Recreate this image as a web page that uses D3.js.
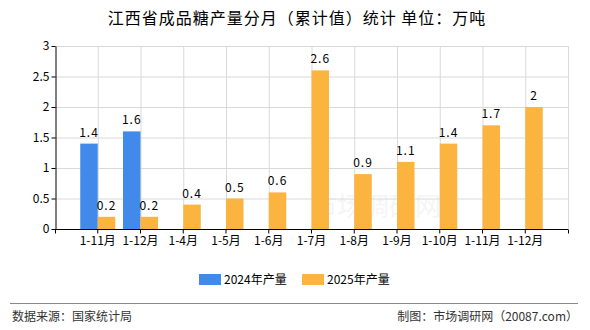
<!DOCTYPE html>
<html>
<head>
<meta charset="utf-8">
<script src="https://cdn.jsdelivr.net/npm/d3@7/dist/d3.min.js"></script>
<style>
  body { margin: 0; background: #fff; }
  svg text { font-family: "Noto Sans CJK SC", "DejaVu Sans", sans-serif; }
  .tick text { font-size: 12px; fill: #000; }
</style>
</head>
<body>
<svg width="590" height="330"></svg>
<script>
// chart data
const categories = ["1-11月", "1-12月", "1-4月", "1-5月", "1-6月", "1-7月", "1-8月", "1-9月", "1-10月", "1-11月", "1-12月"]
const keys = ["c0","c1","c2","c3","c4","c5","c6","c7","c8","c9","c10"]
const values2024 = [1.4, 1.6, null, null, null, null, null, null, null, null, null]
const values2025 = [0.2, 0.2, 0.4, 0.5, 0.6, 2.6, 0.9, 1.1, 1.4, 1.7, 2]
const yTicks = [0, 0.5, 1, 1.5, 2, 2.5, 3]
const seriesNames = ["2024年产量", "2025年产量"]
const colours = ["#418AEA", "#FCB441"]

const svg = d3.select("svg")

// plot area
let plotLeft = 55, plotRight = 568, plotTop = 46, plotBottom = 229
let step = (plotRight - plotLeft) / 12
let barW = 17.5

let x = d3.scaleBand().domain(keys)
    .range([plotLeft + step / 2, plotRight - step / 2]).padding(0)
let cx = (i) => x(keys[i]) + x.bandwidth() / 2
let y = d3.scaleLinear().domain([0, 3]).range([plotBottom, plotTop])

// title
svg.append("text")
    .attr("x", 297).attr("y", 24)
    .attr("text-anchor", "middle")
    .style("font-size", "16px")
    .style("letter-spacing", "1px")
    .text("江西省成品糖产量分月（累计值）统计 单位：万吨")

// watermark
svg.append("text")
    .attr("x", 376).attr("y", 216)
    .attr("text-anchor", "middle")
    .style("font-size", "26px")
    .style("fill", "#f5f5f5")
    .text("市场调研网")

// grid
let grid = svg.append("g")
grid.selectAll("line.h").data(yTicks.slice(1)).enter()
    .append("line")
    .attr("x1", plotLeft).attr("x2", plotRight)
    .attr("y1", d => y(d) + 0.5).attr("y2", d => y(d) + 0.5)
    .style("stroke", "#d9d9d9")
grid.selectAll("line.v").data(d3.range(12)).enter()
    .append("line")
    .attr("x1", (d, i) => i < 11 ? cx(i) + 0.5 : plotRight + 0.5)
    .attr("x2", (d, i) => i < 11 ? cx(i) + 0.5 : plotRight + 0.5)
    .attr("y1", plotTop).attr("y2", plotBottom)
    .style("stroke", "#d9d9d9")

// bars
let bars = svg.append("g")
bars.selectAll("rect.b24").data(values2024.map((v, i) => ({v, i})).filter(d => d.v != null)).enter()
    .append("rect")
    .attr("x", d => cx(d.i) - barW)
    .attr("y", d => y(d.v))
    .attr("width", barW)
    .attr("height", d => y(0) - y(d.v))
    .style("fill", colours[0])
bars.selectAll("rect.b25").data(values2025.map((v, i) => ({v, i}))).enter()
    .append("rect")
    .attr("x", d => cx(d.i))
    .attr("y", d => y(d.v))
    .attr("width", barW)
    .attr("height", d => y(0) - y(d.v))
    .style("fill", colours[1])

// value labels
let labels = svg.append("g").style("font-size", "12px")
labels.selectAll("text.l24").data(values2024.map((v, i) => ({v, i})).filter(d => d.v != null)).enter()
    .append("text")
    .attr("x", d => cx(d.i) - barW / 2)
    .attr("y", d => y(d.v) - 7)
    .attr("text-anchor", "middle")
    .style("letter-spacing", "1px")
    .text(d => d.v)
labels.selectAll("text.l25").data(values2025.map((v, i) => ({v, i}))).enter()
    .append("text")
    .attr("x", d => cx(d.i) + barW / 2)
    .attr("y", d => y(d.v) - 7)
    .attr("text-anchor", "middle")
    .style("letter-spacing", "1px")
    .text(d => d.v)

// y axis
let yAxis = svg.append("g")
    .attr("transform", "translate(" + (plotLeft + 0.5) + ",0)")
    .call(d3.axisLeft(y).tickValues(yTicks).tickFormat(d => String(d)).tickSize(4).tickSizeOuter(0))
yAxis.select(".domain").style("stroke", "#000")
yAxis.selectAll(".tick line").style("stroke", "#000")
yAxis.selectAll(".tick text").attr("x", -6)

// x axis
let xAxis = svg.append("g")
    .attr("transform", "translate(0," + (plotBottom + 0.5) + ")")
    .call(d3.axisBottom(x).tickFormat((d, i) => categories[i]).tickSize(4).tickSizeOuter(0))
xAxis.select(".domain").attr("d", "M" + plotLeft + ",0H" + plotRight).style("stroke", "#000")
xAxis.selectAll(".tick line").style("stroke", "#000")
xAxis.selectAll(".tick text").attr("y", 7)
xAxis.selectAll("line.endTick").data([plotLeft, plotRight]).enter()
    .append("line")
    .attr("x1", d => d + 0.5).attr("x2", d => d + 0.5)
    .attr("y1", 0).attr("y2", 4)
    .style("stroke", "#000")

// legend
let legend = svg.append("g")
let legendX = [199, 302]
legend.selectAll("rect").data(seriesNames).enter()
    .append("rect")
    .attr("x", (d, i) => legendX[i]).attr("y", 274)
    .attr("width", 22).attr("height", 11)
    .style("fill", (d, i) => colours[i])
legend.selectAll("text").data(seriesNames).enter()
    .append("text")
    .attr("x", (d, i) => legendX[i] + 25).attr("y", 284)
    .style("font-size", "12px")
    .text(d => d)

// footer
svg.append("line")
    .attr("x1", 10).attr("x2", 578)
    .attr("y1", 303.5).attr("y2", 303.5)
    .style("stroke", "#888")
svg.append("text")
    .attr("x", 12).attr("y", 321)
    .style("font-size", "12px").style("fill", "#333")
    .text("数据来源：国家统计局")
svg.append("text")
    .attr("x", 578).attr("y", 321)
    .attr("text-anchor", "end")
    .style("font-size", "12px").style("fill", "#333")
    .text("制图：市场调研网（20087.com）")
</script>
</body>
</html>
